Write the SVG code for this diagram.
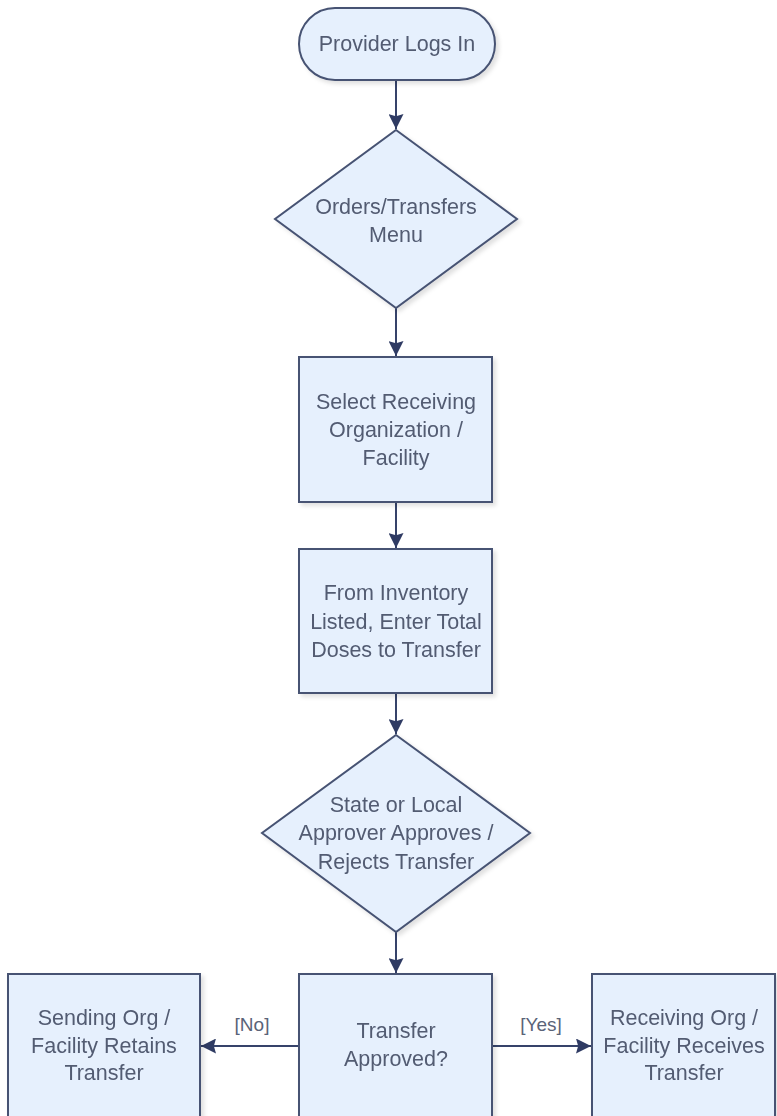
<svg xmlns="http://www.w3.org/2000/svg" width="777" height="1116" viewBox="0 0 777 1116">
<defs>
<style>
.n{fill:#E6F0FD;stroke:#475373;stroke-width:2}
.t{font-family:"Liberation Sans",Arial,sans-serif;font-size:21.5px;fill:#525B72;text-anchor:middle}
.c{stroke:#36436A;stroke-width:2;fill:none;marker-end:url(#ah)}
.l{font-family:"Liberation Sans",Arial,sans-serif;font-size:19px;fill:#5A6378;text-anchor:middle}
</style>
<marker id="ah" viewBox="0 0 14 14" refX="14" refY="7" markerWidth="15" markerHeight="15" markerUnits="userSpaceOnUse" orient="auto">
<path d="M0,0 L14,7 L0,14 L2,7 z" fill="#2F3B63"/>
</marker>
<filter id="sh" x="-5%" y="-5%" width="115%" height="115%">
<feDropShadow dx="3" dy="3" stdDeviation="2" flood-color="#000" flood-opacity="0.12"/>
</filter>
</defs>
<rect width="777" height="1116" fill="#FFFFFF"/>
<g id="connectors">
<line class="c" x1="396" y1="80" x2="396" y2="129"/>
<line class="c" x1="396" y1="308" x2="396" y2="356"/>
<line class="c" x1="396" y1="502" x2="396" y2="548"/>
<line class="c" x1="396" y1="693" x2="396" y2="734"/>
<line class="c" x1="396" y1="932" x2="396" y2="973"/>
<line class="c" x1="299" y1="1046" x2="201" y2="1046"/>
<line class="c" x1="492" y1="1046" x2="591" y2="1046"/>
<text class="l" x="252" y="1031">[No]</text>
<text class="l" x="541" y="1031">[Yes]</text>
</g>
<g id="start" filter="url(#sh)">
<rect class="n" x="299" y="8" width="196" height="72" rx="36" ry="36"/>
<text class="t" x="397" y="51">Provider Logs In</text>
</g>
<g id="menu" filter="url(#sh)">
<polygon class="n" points="396,130 517,219 396,308 275,219"/>
<text class="t" x="396" y="214">Orders/Transfers</text>
<text class="t" x="396" y="242">Menu</text>
</g>
<g id="select" filter="url(#sh)">
<rect class="n" x="299" y="357" width="193" height="145"/>
<text class="t" x="396" y="409">Select Receiving</text>
<text class="t" x="396" y="437">Organization /</text>
<text class="t" x="396" y="465">Facility</text>
</g>
<g id="inventory" filter="url(#sh)">
<rect class="n" x="299" y="549" width="193" height="144"/>
<text class="t" x="396" y="600">From Inventory</text>
<text class="t" x="396" y="629">Listed, Enter Total</text>
<text class="t" x="396" y="657">Doses to Transfer</text>
</g>
<g id="approver" filter="url(#sh)">
<polygon class="n" points="396,735 530,833 396,932 262,833"/>
<text class="t" x="396" y="812">State or Local</text>
<text class="t" x="396" y="840">Approver Approves /</text>
<text class="t" x="396" y="869">Rejects Transfer</text>
</g>
<g id="approved" filter="url(#sh)">
<rect class="n" x="299" y="974" width="193" height="160"/>
<text class="t" x="396" y="1038">Transfer</text>
<text class="t" x="396" y="1066">Approved?</text>
</g>
<g id="retain" filter="url(#sh)">
<rect class="n" x="8" y="974" width="192" height="160"/>
<text class="t" x="104" y="1025">Sending Org /</text>
<text class="t" x="104" y="1053">Facility Retains</text>
<text class="t" x="104" y="1080">Transfer</text>
</g>
<g id="receive" filter="url(#sh)">
<rect class="n" x="592" y="974" width="183" height="160"/>
<text class="t" x="684" y="1025">Receiving Org /</text>
<text class="t" x="684" y="1053">Facility Receives</text>
<text class="t" x="684" y="1080">Transfer</text>
</g>
</svg>
